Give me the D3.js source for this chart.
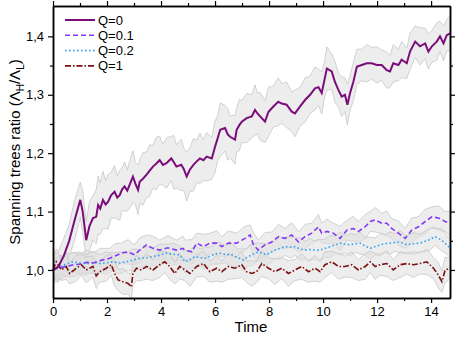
<!DOCTYPE html>
<html>
<head>
<meta charset="utf-8">
<script src="https://cdn.jsdelivr.net/npm/d3@7"></script>
<style>
  body { margin: 0; background: #fff; }
  text { font-family: "Liberation Sans", Arial, sans-serif; }
</style>
</head>
<body>
<svg width="458" height="337"></svg>
<script>
// data: [time, mean ratio, spread]
var seriesNames = ["Q=0", "Q=0.1", "Q=0.2", "Q=1"];

var q0 = [
  [0, 1.000, 0.022], [0.2, 1.006, 0.026], [0.4, 1.024, 0.03], [0.6, 1.05, 0.028], [0.8, 1.085, 0.034],
  [1.01, 1.12, 0.03], [1.1, 1.10, 0.036], [1.23, 1.051, 0.032], [1.35, 1.075, 0.042], [1.48, 1.089, 0.038],
  [1.6, 1.091, 0.046], [1.67, 1.111, 0.05], [1.75, 1.105, 0.044], [1.85, 1.12, 0.049], [1.95, 1.112, 0.041],
  [2.04, 1.117, 0.047], [2.15, 1.128, 0.039], [2.28, 1.134, 0.045], [2.38, 1.124, 0.037], [2.47, 1.128, 0.043],
  [2.56, 1.138, 0.036], [2.65, 1.143, 0.042], [2.75, 1.136, 0.035], [2.84, 1.146, 0.041], [2.96, 1.16, 0.044],
  [3.05, 1.148, 0.036], [3.15, 1.137, 0.042], [3.21, 1.151, 0.037], [3.33, 1.156, 0.045], [3.46, 1.163, 0.039],
  [3.58, 1.170, 0.044], [3.7, 1.177, 0.037], [3.82, 1.182, 0.045], [3.95, 1.188, 0.041], [4.07, 1.180, 0.035],
  [4.2, 1.183, 0.043], [4.38, 1.191, 0.038], [4.48, 1.184, 0.046], [4.57, 1.177, 0.037], [4.75, 1.18, 0.044],
  [4.85, 1.172, 0.036], [4.95, 1.16, 0.042], [5.07, 1.172, 0.037], [5.2, 1.18, 0.045], [5.32, 1.186, 0.036],
  [5.44, 1.191, 0.043], [5.57, 1.188, 0.035], [5.69, 1.194, 0.041], [5.88, 1.191, 0.036], [6.0, 1.211, 0.044],
  [6.1, 1.226, 0.038], [6.19, 1.24, 0.046], [6.37, 1.243, 0.039], [6.47, 1.232, 0.044], [6.56, 1.228, 0.036],
  [6.74, 1.223, 0.042], [6.8, 1.24, 0.037], [6.9, 1.248, 0.044], [6.99, 1.254, 0.036], [7.17, 1.26, 0.042],
  [7.36, 1.263, 0.037], [7.48, 1.274, 0.043], [7.57, 1.268, 0.035], [7.67, 1.263, 0.041], [7.85, 1.254, 0.036],
  [7.98, 1.271, 0.042], [8.16, 1.28, 0.035], [8.34, 1.288, 0.041], [8.47, 1.285, 0.034], [8.65, 1.283, 0.039],
  [8.84, 1.271, 0.034], [8.96, 1.268, 0.04], [9.15, 1.28, 0.033], [9.33, 1.291, 0.038], [9.52, 1.30, 0.032],
  [9.7, 1.311, 0.037], [9.83, 1.313, 0.031], [9.95, 1.303, 0.036], [10.05, 1.325, 0.031], [10.14, 1.345, 0.037],
  [10.32, 1.34, 0.03], [10.44, 1.322, 0.035], [10.57, 1.308, 0.029], [10.69, 1.297, 0.034], [10.81, 1.30, 0.029],
  [10.9, 1.283, 0.035], [11.0, 1.303, 0.029], [11.12, 1.322, 0.033], [11.25, 1.348, 0.03], [11.43, 1.351, 0.027],
  [11.62, 1.354, 0.032], [11.8, 1.354, 0.027], [11.99, 1.351, 0.031], [12.17, 1.351, 0.026], [12.36, 1.342, 0.031],
  [12.48, 1.34, 0.027], [12.6, 1.354, 0.032], [12.79, 1.351, 0.027], [12.91, 1.36, 0.031], [13.1, 1.354, 0.026],
  [13.22, 1.374, 0.031], [13.41, 1.391, 0.027], [13.59, 1.383, 0.032], [13.78, 1.388, 0.026], [13.9, 1.374, 0.03],
  [14.03, 1.383, 0.027], [14.21, 1.391, 0.032], [14.33, 1.40, 0.026], [14.46, 1.388, 0.03], [14.58, 1.402, 0.027],
  [14.7, 1.405, 0.03]
];

var q01 = [
  [0, 1.000, 0.017], [0.25, 1.004, 0.021], [0.5, 1.006, 0.017], [0.75, 1.009, 0.021], [1.0, 1.01, 0.017],
  [1.25, 1.013, 0.021], [1.5, 1.012, 0.017], [1.75, 1.016, 0.021], [2.1, 1.02, 0.017], [2.3, 1.024, 0.021],
  [2.53, 1.029, 0.017], [2.78, 1.031, 0.021], [3.02, 1.026, 0.017], [3.21, 1.034, 0.021], [3.46, 1.043, 0.017],
  [3.7, 1.037, 0.021], [3.95, 1.034, 0.017], [4.25, 1.038, 0.021], [4.57, 1.034, 0.017], [4.81, 1.037, 0.021],
  [4.89, 1.034, 0.017], [5.14, 1.031, 0.021], [5.32, 1.046, 0.017], [5.57, 1.04, 0.021], [5.81, 1.046, 0.017],
  [6.06, 1.046, 0.021], [6.25, 1.04, 0.017], [6.49, 1.046, 0.021], [6.8, 1.046, 0.017], [7.11, 1.054, 0.021],
  [7.3, 1.06, 0.017], [7.42, 1.043, 0.021], [7.6, 1.034, 0.017], [7.85, 1.043, 0.021], [8.1, 1.048, 0.017],
  [8.35, 1.057, 0.021], [8.59, 1.054, 0.017], [8.84, 1.06, 0.021], [9.09, 1.048, 0.017], [9.33, 1.057, 0.021],
  [9.58, 1.063, 0.017], [9.83, 1.074, 0.021], [9.95, 1.063, 0.017], [10.14, 1.066, 0.021], [10.38, 1.063, 0.017],
  [10.63, 1.054, 0.021], [10.88, 1.068, 0.017], [11.12, 1.071, 0.021], [11.31, 1.066, 0.017], [11.56, 1.074, 0.021],
  [11.75, 1.083, 0.017], [11.93, 1.086, 0.021], [12.17, 1.08, 0.017], [12.36, 1.08, 0.021], [12.54, 1.071, 0.017],
  [12.79, 1.063, 0.021], [13.04, 1.054, 0.017], [13.28, 1.068, 0.021], [13.53, 1.074, 0.017], [13.78, 1.083, 0.021],
  [14.03, 1.091, 0.017], [14.27, 1.089, 0.021], [14.52, 1.083, 0.017], [14.7, 1.08, 0.021]
];

var q02 = [
  [0, 1.000, 0.019], [0.25, 1.006, 0.015], [0.5, 1.010, 0.019], [0.74, 1.014, 0.015], [1.0, 1.012, 0.019],
  [1.23, 1.011, 0.015], [1.48, 1.013, 0.019], [1.73, 1.011, 0.015], [1.97, 1.012, 0.019], [2.22, 1.014, 0.015],
  [2.47, 1.012, 0.019], [2.72, 1.014, 0.015], [2.96, 1.017, 0.019], [3.21, 1.02, 0.015], [3.46, 1.021, 0.019],
  [3.7, 1.023, 0.015], [3.95, 1.025, 0.019], [4.2, 1.029, 0.015], [4.45, 1.027, 0.019], [4.69, 1.026, 0.015],
  [4.89, 1.014, 0.019], [5.07, 1.018, 0.015], [5.26, 1.023, 0.019], [5.45, 1.021, 0.015], [5.63, 1.02, 0.019],
  [5.88, 1.025, 0.015], [6.12, 1.029, 0.019], [6.37, 1.027, 0.015], [6.62, 1.026, 0.019], [6.85, 1.021, 0.015],
  [7.05, 1.017, 0.019], [7.2, 1.022, 0.015], [7.36, 1.026, 0.019], [7.6, 1.031, 0.015], [7.91, 1.026, 0.019],
  [8.22, 1.034, 0.015], [8.4, 1.037, 0.019], [8.59, 1.04, 0.015], [8.78, 1.039, 0.019], [8.96, 1.04, 0.015],
  [9.15, 1.036, 0.019], [9.33, 1.034, 0.015], [9.52, 1.035, 0.019], [9.7, 1.034, 0.015], [9.89, 1.034, 0.019],
  [10.07, 1.037, 0.015], [10.26, 1.04, 0.019], [10.45, 1.043, 0.015], [10.63, 1.046, 0.019], [10.82, 1.044, 0.015],
  [11.0, 1.043, 0.019], [11.19, 1.045, 0.015], [11.37, 1.046, 0.019], [11.56, 1.041, 0.015], [11.75, 1.037, 0.019],
  [11.93, 1.04, 0.015], [12.11, 1.043, 0.019], [12.3, 1.045, 0.015], [12.48, 1.046, 0.019], [12.67, 1.047, 0.015],
  [12.85, 1.048, 0.019], [13.1, 1.043, 0.015], [13.34, 1.045, 0.019], [13.59, 1.046, 0.015], [13.9, 1.051, 0.019],
  [14.15, 1.057, 0.015], [14.4, 1.051, 0.019], [14.64, 1.04, 0.015], [14.7, 1.041, 0.019]
];

var q1 = [
  [0, 1.0, 0.018], [0.12, 1.014, 0.022], [0.31, 1.0, 0.018], [0.49, 1.006, 0.022], [0.62, 0.994, 0.018],
  [0.86, 1.003, 0.022], [1.05, 1.009, 0.018], [1.23, 1.0, 0.022], [1.48, 1.006, 0.018], [1.6, 0.99, 0.022],
  [1.73, 0.997, 0.018], [1.97, 1.003, 0.022], [2.16, 1.009, 0.018], [2.28, 0.994, 0.022], [2.41, 0.983, 0.018],
  [2.59, 0.98, 0.022], [2.78, 0.977, 0.018], [2.9, 0.971, 0.022], [2.96, 0.994, 0.018], [3.09, 1.003, 0.022],
  [3.27, 1.0, 0.018], [3.46, 1.006, 0.022], [3.7, 1.0, 0.018], [3.95, 1.009, 0.022], [4.14, 1.014, 0.018],
  [4.32, 1.006, 0.022], [4.51, 0.994, 0.018], [4.69, 1.006, 0.022], [4.89, 1.0, 0.018], [5.07, 0.994, 0.022],
  [5.32, 1.006, 0.018], [5.57, 1.011, 0.022], [5.81, 0.997, 0.018], [6.06, 1.003, 0.022], [6.25, 0.997, 0.018],
  [6.49, 1.006, 0.022], [6.74, 1.003, 0.018], [6.99, 1.009, 0.022], [7.17, 0.997, 0.018], [7.36, 0.994, 0.022],
  [7.54, 0.997, 0.018], [7.73, 1.011, 0.022], [7.98, 1.003, 0.018], [8.22, 0.997, 0.022], [8.47, 1.003, 0.018],
  [8.72, 0.994, 0.022], [8.96, 1.0, 0.018], [9.21, 1.006, 0.022], [9.46, 0.997, 0.018], [9.7, 1.003, 0.022],
  [9.89, 0.997, 0.018], [10.07, 1.009, 0.022], [10.32, 1.014, 0.018], [10.57, 1.006, 0.022], [10.81, 1.006, 0.018],
  [11.06, 1.009, 0.022], [11.31, 1.0, 0.018], [11.56, 1.006, 0.022], [11.75, 1.014, 0.018], [11.93, 1.006, 0.022],
  [12.11, 1.009, 0.018], [12.36, 1.011, 0.022], [12.6, 1.0, 0.018], [12.85, 1.009, 0.022], [13.1, 1.011, 0.018],
  [13.34, 1.009, 0.022], [13.59, 1.011, 0.018], [13.84, 1.014, 0.022], [14.09, 1.003, 0.018], [14.27, 0.991, 0.022],
  [14.4, 0.98, 0.018], [14.52, 1.0, 0.022], [14.7, 1.003, 0.018]
];

var xTicks = [0, 2, 4, 6, 8, 10, 12, 14];
var xMinor = [1, 3, 5, 7, 9, 11, 13];
var yTicks = [1.0, 1.1, 1.2, 1.3, 1.4];
var yMinor = [1.05, 1.15, 1.25, 1.35];

var svg = d3.select("svg");

var x = d3.scaleLinear().domain([0, 14.7]).range([53, 450]);
var y = d3.scaleLinear().domain([0.952, 1.452]).range([298, 6]);

var series = [
  {name: seriesNames[0], data: q0, color: "#7b0d7b", width: 2, dash: null},
  {name: seriesNames[1], data: q01, color: "#8338f5", width: 1.6, dash: "5,3"},
  {name: seriesNames[2], data: q02, color: "#33a3f5", width: 1.6, dash: "1.6,2.4"},
  {name: seriesNames[3], data: q1, color: "#7a1010", width: 1.6, dash: "6,2,1.5,2"}
];

var band = d3.area()
    .x(function(d) { return x(d[0]); })
    .y0(function(d) { return y(d[1] - d[2]); })
    .y1(function(d) { return y(d[1] + d[2]); });

var edgeHi = d3.line()
    .x(function(d) { return x(d[0]); })
    .y(function(d) { return y(d[1] + d[2]); });
var edgeLo = d3.line()
    .x(function(d) { return x(d[0]); })
    .y(function(d) { return y(d[1] - d[2]); });

var line = d3.line()
    .x(function(d) { return x(d[0]); })
    .y(function(d) { return y(d[1]); });

var bands = svg.append("g").attr("class", "bands");
series.forEach(function(s) {
    bands.append("path").attr("d", band(s.data))
        .attr("fill", "#dedede").attr("fill-opacity", 0.55);
    bands.append("path").attr("d", edgeHi(s.data))
        .attr("fill", "none").attr("stroke", "#c8c8c8").attr("stroke-width", 0.8);
    bands.append("path").attr("d", edgeLo(s.data))
        .attr("fill", "none").attr("stroke", "#c8c8c8").attr("stroke-width", 0.8);
});

var lines = svg.append("g").attr("class", "lines");
series.slice().reverse().forEach(function(s) {
    lines.append("path").attr("d", line(s.data))
        .attr("fill", "none")
        .attr("stroke", s.color)
        .attr("stroke-width", s.width)
        .attr("stroke-dasharray", s.dash);
});

// axes
var fmt = function(d) { return d3.format(".1f")(d).replace(".", ","); };

function styleAxis(g) {
    g.selectAll("path.domain").attr("stroke", "#000").attr("stroke-width", 1.5);
    g.selectAll(".tick line").attr("stroke", "#000").attr("stroke-width", 1.2);
    g.selectAll("text").attr("fill", "#000").style("font-size", "13px");
}

svg.append("g").attr("transform", "translate(0,298)")
    .call(d3.axisBottom(x).tickValues(xTicks).tickSize(5).tickPadding(4).tickSizeOuter(0))
    .call(styleAxis);
svg.append("g").attr("transform", "translate(0,298)")
    .call(d3.axisBottom(x).tickValues(xMinor).tickSize(3).tickFormat("").tickSizeOuter(0))
    .call(styleAxis);
svg.append("g").attr("transform", "translate(0,6)")
    .call(d3.axisTop(x).tickValues(xTicks).tickSize(5).tickFormat("").tickSizeOuter(0))
    .call(styleAxis);
svg.append("g").attr("transform", "translate(0,6)")
    .call(d3.axisTop(x).tickValues(xMinor).tickSize(3).tickFormat("").tickSizeOuter(0))
    .call(styleAxis);

svg.append("g").attr("transform", "translate(53,0)")
    .call(d3.axisLeft(y).tickValues(yTicks).tickSize(5).tickPadding(4).tickFormat(fmt).tickSizeOuter(0))
    .call(styleAxis);
svg.append("g").attr("transform", "translate(53,0)")
    .call(d3.axisLeft(y).tickValues(yMinor).tickSize(3).tickFormat("").tickSizeOuter(0))
    .call(styleAxis);
svg.append("g").attr("transform", "translate(450,0)")
    .call(d3.axisRight(y).tickValues(yTicks).tickSize(5).tickFormat("").tickSizeOuter(0))
    .call(styleAxis);
svg.append("g").attr("transform", "translate(450,0)")
    .call(d3.axisRight(y).tickValues(yMinor).tickSize(3).tickFormat("").tickSizeOuter(0))
    .call(styleAxis);

// titles
svg.append("text")
    .attr("x", 251).attr("y", 332)
    .attr("text-anchor", "middle")
    .style("font-size", "15px")
    .text("Time");

var yt = svg.append("text")
    .attr("transform", "translate(20,152) rotate(-90)")
    .attr("text-anchor", "middle")
    .style("font-size", "15px");
yt.append("tspan").text("Spanning trees ratio (\u039B");
yt.append("tspan").attr("dy", 4).style("font-size", "10px").text("H");
yt.append("tspan").attr("dy", -4).text("/\u039B");
yt.append("tspan").attr("dy", 4).style("font-size", "10px").text("L");
yt.append("tspan").attr("dy", -4).text(")");

// legend
var legend = svg.append("g").attr("class", "legend");
series.forEach(function(s, i) {
    var ly = 20 + i * 15.3;
    legend.append("line")
        .attr("x1", 65).attr("x2", 95).attr("y1", ly).attr("y2", ly)
        .attr("stroke", s.color).attr("stroke-width", s.width)
        .attr("stroke-dasharray", s.dash);
    legend.append("text")
        .attr("x", 98).attr("y", ly + 4.5)
        .style("font-size", "13px")
        .text(s.name);
});
</script>
</body>
</html>
